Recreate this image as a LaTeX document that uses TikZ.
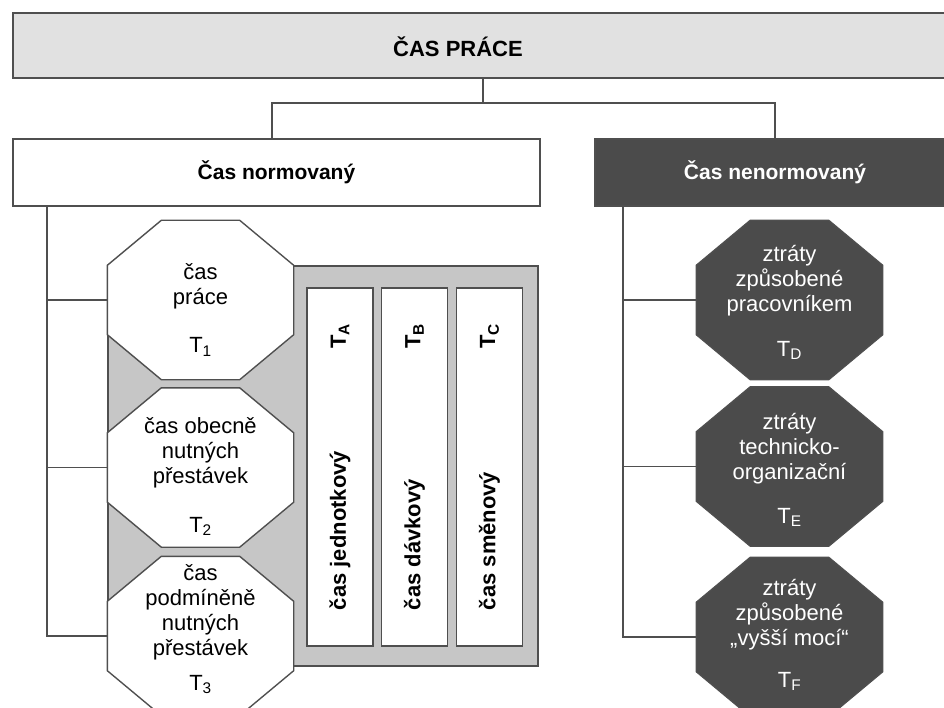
\documentclass[tikz,border=0pt]{standalone}
\usepackage{fontspec}
\setmainfont{Liberation Sans}
\definecolor{topgray}{HTML}{E1E1E1}
\definecolor{panelgray}{HTML}{C6C6C6}
\definecolor{darkbox}{HTML}{4B4B4B}
\definecolor{linegray}{HTML}{4F4F4F}
\newcommand{\octpath}[2]{%
    \draw[draw=linegray, fill=#2] ([xshift=54pt]#1.north west) -- ([xshift=-54pt]#1.north east)
        -- ([yshift=-45pt]#1.north east) -- ([yshift=45pt]#1.south east)
        -- ([xshift=-54pt]#1.south east) -- ([xshift=54pt]#1.south west)
        -- ([yshift=45pt]#1.south west) -- ([yshift=-45pt]#1.north west) -- cycle;}
\begin{document}
\begin{tikzpicture}[x=1pt, y=-1pt, line width=1.4pt,
    conn/.style={draw=linegray, line width=1.3pt},
    head/.style={draw=linegray, line width=1.8pt, minimum height=65pt, inner sep=0pt, font=\bfseries\fontsize{21}{24}\selectfont},
    oct/.style={minimum width=185pt, minimum height=158pt, inner sep=0pt},
    octtxt/.style={align=center, inner sep=0pt, font=\fontsize{22}{25}\selectfont},
    colbox/.style={draw=linegray, fill=white, minimum width=66pt, minimum height=358pt, inner sep=0pt},
    coltxt/.style={rotate=90, inner sep=0pt, font=\bfseries\fontsize{22}{25}\selectfont}]
    \useasboundingbox (0,0) rectangle (944,708);
    \clip (0,0) rectangle (944,708);
    \node[head, fill=topgray, minimum width=940pt] (top) at (483,45.5) {};
    \node[font=\bfseries\fontsize{22}{25}\selectfont] (toptxt) at (458,47) {ČAS PRÁCE};
    \node[head, fill=white, minimum width=527pt, minimum height=67pt] (norm) at (276.5,172.5) {Čas normovaný\hspace{22pt}};
    \node[head, fill=darkbox, text=white, minimum width=360pt, minimum height=67pt] (nenorm) at (775,172.5) {Čas nenormovaný};
    \coordinate (bar) at (483,103);
    \coordinate (lbr) at (272,103);
    \draw[conn] (top.south) -- (bar);
    \draw[conn] (lbr |- norm.north) -- (lbr) -| (nenorm.north);
    \draw[draw=linegray, fill=panelgray] (108,266) rectangle (538,666);
    \foreach \c/\x/\s/\t in {a/340/A/čas jednotkový, b/414.5/B/čas dávkový, c/489.5/C/čas směnový} {
        \node[colbox] (col\c) at (\x,467) {};
        \node[coltxt] (t\c) at ([yshift=-49pt]col\c.north) {T\textsubscript{\s}};
        \node[coltxt, anchor=west] (n\c) at ([yshift=36pt]col\c.south) {\t};
    }
    \node[oct] (o1) at (200.5,300) {};
    \node[oct] (o2) at (200.5,467.5) {};
    \node[oct] (o3) at (200.5,636) {};
    \node[oct] (od) at (789.5,300) {};
    \node[oct] (oe) at (789.5,466.5) {};
    \node[oct] (of) at (789.5,637) {};
    \foreach \o in {o1,o2,o3} \octpath{\o}{white};
    \foreach \o in {od,oe,of} \octpath{\o}{darkbox};
    \node[octtxt] (o1t) at ([yshift=-10pt]o1.center) {čas\\práce\\[23pt]T\textsubscript{1}};
    \node[octtxt] (o2t) at ([yshift=-9pt]o2.center) {čas obecně\\nutných\\přestávek\\[24pt]T\textsubscript{2}};
    \node[octtxt] (o3t) at ([yshift=7pt]o3.center) {čas\\podmíněně\\nutných\\přestávek\\[10pt]T\textsubscript{3}};
    \node[octtxt, text=white] (odt) at ([yshift=-2.5pt]od.center) {ztráty\\způsobené\\pracovníkem\\[20pt]T\textsubscript{D}};
    \node[octtxt, text=white] (oet) at ([yshift=-3.5pt]oe.center) {ztráty\\technicko-\\organizační\\[19pt]T\textsubscript{E}};
    \node[octtxt, text=white] (oft) at ([yshift=2pt]of.center) {ztráty\\způsobené\\„vyšší mocí“\\[17pt]T\textsubscript{F}};
    \coordinate (ltr) at (47,206);
    \coordinate (rtr) at (623,206);
    \draw[conn] (ltr) |- (o3.west);
    \draw[conn] (rtr) |- (of.west);
    \foreach \o in {o1,o2} \draw[conn] (ltr |- \o.west) -- (\o.west);
    \foreach \o in {od,oe} \draw[conn] (rtr |- \o.west) -- (\o.west);
\end{tikzpicture}
\end{document}
